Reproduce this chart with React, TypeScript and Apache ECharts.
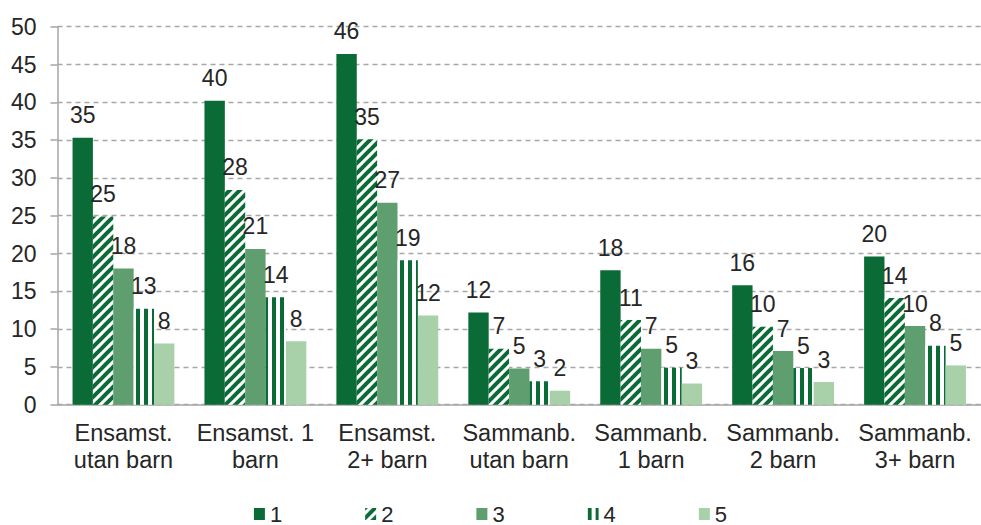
import React, { useEffect, useRef } from 'react';
import * as echarts from 'echarts';

const categories = [
  'Ensamst.\nutan barn',
  'Ensamst. 1\nbarn',
  'Ensamst.\n2+ barn',
  'Sammanb.\nutan barn',
  'Sammanb.\n1 barn',
  'Sammanb.\n2 barn',
  'Sammanb.\n3+ barn',
];
const seriesNames = ['1', '2', '3', '4', '5'];
const values1 = [35.3, 40.2, 46.4, 12.2, 17.8, 15.8, 19.6];
const values2 = [24.9, 28.4, 35.1, 7.4, 11.2, 10.3, 14.1];
const values3 = [18.0, 20.6, 26.7, 4.8, 7.4, 7.1, 10.4];
const values4 = [12.7, 14.2, 19.1, 3.1, 4.9, 4.85, 7.8];
const values5 = [8.1, 8.4, 11.8, 1.85, 2.8, 3.0, 5.2];
const yMin = 0;
const yMax = 50;
const yInterval = 5;

const DARK = '#0b6b37';
const MID = '#5f9e6e';
const LIGHT = '#a8d1aa';
const TEXT = '#262626';
const FONT = '"Liberation Sans", Arial, sans-serif';

function diagPattern(): any {
  const P = 10;
  const c = document.createElement('canvas');
  c.width = P;
  c.height = P;
  const ctx = c.getContext('2d')!;
  ctx.fillStyle = '#ffffff';
  ctx.fillRect(0, 0, P, P);
  ctx.strokeStyle = DARK;
  ctx.lineWidth = 4;
  for (const k of [-P, 0, P, 2 * P, 3 * P]) {
    ctx.beginPath();
    ctx.moveTo(k + P, -P);
    ctx.lineTo(k - 2 * P, 2 * P);
    ctx.stroke();
  }
  return { image: c.toDataURL(), imageWidth: P, imageHeight: P, repeat: 'repeat' };
}

function vertPattern(): any {
  const P = 8;
  const c = document.createElement('canvas');
  c.width = P;
  c.height = P;
  const ctx = c.getContext('2d')!;
  ctx.fillStyle = '#ffffff';
  ctx.fillRect(0, 0, P, P);
  ctx.fillStyle = DARK;
  ctx.fillRect(0, 0, 4, P);
  return { image: c.toDataURL(), imageWidth: P, imageHeight: P, repeat: 'repeat' };
}

export default function App() {
  const ref = useRef<HTMLDivElement>(null);
  useEffect(() => {
    document.body.style.margin = '0';
    const chart = echarts.init(ref.current!, null, { renderer: 'svg' });
    const colors = [DARK, diagPattern(), MID, vertPattern(), LIGHT];
    const data = [values1, values2, values3, values4, values5];
    chart.setOption({
      animation: false,
      backgroundColor: '#ffffff',
      textStyle: { fontFamily: FONT },
      grid: { left: 57.5, top: 26.7, width: 928, height: 378, containLabel: false },
      legend: {
        left: 'center',
        top: 503,
        padding: 0,
        itemWidth: 11,
        itemHeight: 12,
        itemGap: 83,
        icon: 'rect',
        textStyle: { fontSize: 22, lineHeight: 22, color: TEXT, fontFamily: FONT },
        data: seriesNames,
      },
      xAxis: {
        type: 'category',
        data: categories,
        axisLine: { show: true, lineStyle: { color: '#a6a6a6', width: 1.5 } },
        axisTick: { show: false },
        axisLabel: {
          fontSize: 23.5,
          lineHeight: 27,
          color: TEXT,
          fontFamily: FONT,
          margin: 15,
          interval: 0,
        },
      },
      yAxis: {
        type: 'value',
        min: yMin,
        max: yMax,
        interval: yInterval,
        axisLine: { show: true, lineStyle: { color: '#a6a6a6', width: 1.5 } },
        axisTick: { show: true, length: 7, lineStyle: { color: '#a6a6a6', width: 1.5 } },
        axisLabel: { fontSize: 23, color: TEXT, fontFamily: FONT, margin: 21 },
        splitLine: { show: true, lineStyle: { color: '#a6a6a6', type: [5, 4], width: 1.3 } },
      },
      series: seriesNames.map((name, i) => ({
        name,
        type: 'bar',
        data: data[i],
        barGap: '0%',
        barCategoryGap: '22.8%',
        itemStyle: { color: colors[i] },
        label: {
          show: true,
          position: 'top',
          distance: 11,
          fontSize: 23,
          color: TEXT,
          fontFamily: FONT,
          formatter: (p: any) => String(Math.round(p.value)),
        },
      })),
    });
    return () => chart.dispose();
  }, []);
  return <div ref={ref} style={{ width: 981, height: 525 }} />;
}
